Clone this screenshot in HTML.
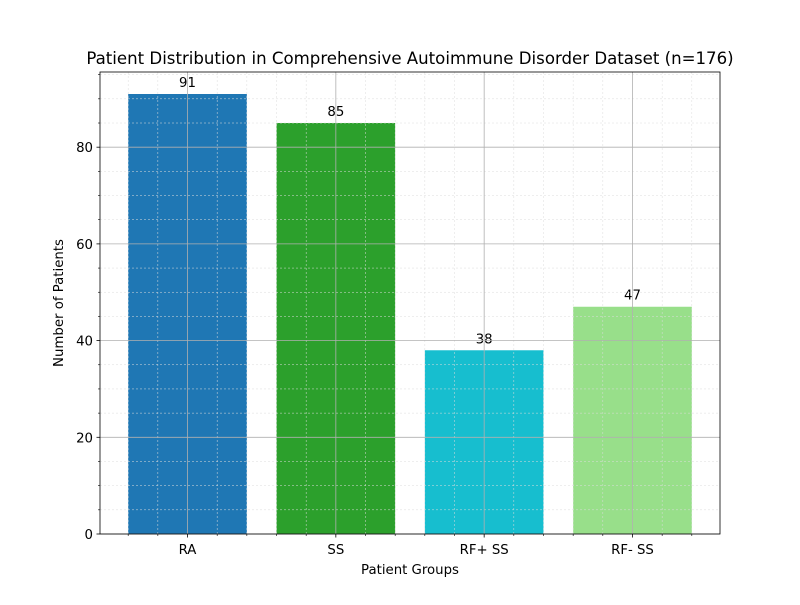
<!DOCTYPE html>
<html><head><meta charset="utf-8"><style>
body{margin:0;background:#fff;}
svg text{font-family:"DejaVu Sans","Liberation Sans",sans-serif;}
</style></head><body>
<svg id="chart" width="800" height="600" xmlns="http://www.w3.org/2000/svg">
<rect width="800" height="600" fill="#fff"/>
<g id="bars"></g><g id="grid"></g><g id="axes"></g>
</svg>
<script>
const categories=["RA","SS","RF+ SS","RF- SS"];
const values=[91,85,38,47];
const colors=["#1f77b4","#2ca02c","#17becf","#98df8a"];
const yTicks=[0,20,40,60,80];
const L=100,R=720,T=72,B=534;
const xmin=-0.59,xmax=3.59,ymin=0,ymax=95.55;
const xs=v=>L+(v-xmin)/(xmax-xmin)*(R-L);
const ys=v=>B-(v-ymin)/(ymax-ymin)*(B-T);
const NS="http://www.w3.org/2000/svg";
function mk(tag,attrs,parent,txt){const e=document.createElementNS(NS,tag);for(const k in attrs)e.setAttribute(k,attrs[k]);if(txt!==undefined)e.textContent=txt;parent.appendChild(e);return e;}
const gB=document.getElementById('bars'),gG=document.getElementById('grid'),gA=document.getElementById('axes');
values.forEach((v,i)=>{
 const r=mk('rect',{x:xs(i-0.4),y:ys(v),width:xs(i+0.4)-xs(i-0.4),height:ys(0)-ys(v),fill:colors[i]},gB);
 
 
 const t=mk('text',{x:xs(i),y:ys(v)-7,'text-anchor':'middle','font-size':13.3,fill:'#000'},gB,String(v));
 
 
});
for(let x=Math.ceil(xmin/0.2)*0.2;x<=xmax;x+=0.2){const px=xs(x);if(Math.abs(x-Math.round(x))<1e-6)continue;mk('line',{x1:px,x2:px,y1:T,y2:B,stroke:'#ddd','stroke-width':0.5,'stroke-dasharray':'2,2'},gG);mk('line',{x1:px,x2:px,y1:B,y2:B+2,stroke:'#000','stroke-width':0.6},gA);}
for(let y=5;y<ymax;y+=5){if(y%20===0)continue;const py=ys(y);mk('line',{x1:L,x2:R,y1:py,y2:py,stroke:'#ddd','stroke-width':0.5,'stroke-dasharray':'2,2'},gG);mk('line',{x1:L-2,x2:L,y1:py,y2:py,stroke:'#000','stroke-width':0.6},gA);}
categories.forEach((c,i)=>{const px=xs(i);mk('line',{x1:px,x2:px,y1:T,y2:B,stroke:'#b0b0b0','stroke-width':0.8},gG);mk('line',{x1:px,x2:px,y1:B,y2:B+3.5,stroke:'#000','stroke-width':0.8},gA);
 const t=mk('text',{x:px,y:B+20,'text-anchor':'middle','font-size':13.3},gA,c);});
yTicks.forEach(v=>{const py=ys(v);mk('line',{x1:L,x2:R,y1:py,y2:py,stroke:'#b0b0b0','stroke-width':0.8},gG);mk('line',{x1:L-3.5,x2:L,y1:py,y2:py,stroke:'#000','stroke-width':0.8},gA);
 const t=mk('text',{x:L-7,y:py+5,'text-anchor':'end','font-size':13.3},gA,String(v));});
mk('rect',{x:L,y:T,width:R-L,height:B-T,fill:'none',stroke:'#000','stroke-width':0.8},gA);
let t=mk('text',{x:410,y:64,'text-anchor':'middle','font-size':16.6},gA,'Patient Distribution in Comprehensive Autoimmune Disorder Dataset (n=176)');
t=mk('text',{x:410,y:574,'text-anchor':'middle','font-size':13.3},gA,'Patient Groups');
t=mk('text',{x:63,y:303,'text-anchor':'middle','font-size':13.3,transform:'rotate(-90 63 303)'},gA,'Number of Patients');
</script>
</body></html>
